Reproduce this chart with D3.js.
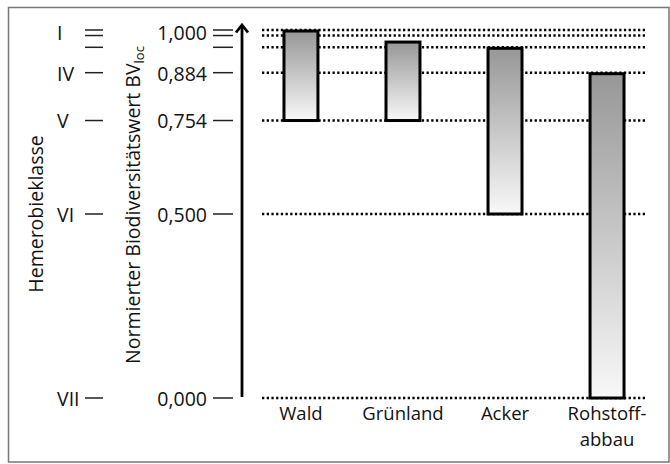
<!DOCTYPE html>
<html>
<head>
<meta charset="utf-8">
<script src="https://cdn.jsdelivr.net/npm/d3@7"></script>
<style>
  body { margin: 0; background: #fff; }
  svg text { font-family: "Open Sans", sans-serif; fill: #111; }
</style>
</head>
<body>
<svg id="chart" width="670" height="464"></svg>
<script>
// land use categories and their range of normalised biodiversity value
const categories = ['Wald', 'Grünland', 'Acker', 'Rohstoff-\nabbau'];
const barLow = [0.754, 0.754, 0.5, 0.0];
const barHigh = [1.0, 0.97, 0.953, 0.884];

// hemeroby classes and the matching BV_loc levels
const classes = ['I', 'II', 'III', 'IV', 'V', 'VI', 'VII'];
const classValues = [1.0, 0.985, 0.953, 0.884, 0.754, 0.5, 0.0];
const classLabelShown = [true, false, false, true, true, true, true];
const valueTickLabels = ['1,000', '', '', '0,884', '0,754', '0,500', '0,000'];

const FONT = 19.5;
const CAT_FONT = 18.5;
const svg = d3.select('#chart');

const y = d3.scaleLinear().domain([0, 1]).range([398, 30]);
const x = d3.scaleBand().domain(categories).range([250, 658])
  .paddingInner(0.667).paddingOuter(0.333);

// frame
svg.append('rect')
  .attr('x', 8.5).attr('y', 7.5).attr('width', 660.5).attr('height', 454.5)
  .attr('fill', 'none').attr('stroke', '#777').attr('stroke-width', 1.5);

// dotted reference lines
svg.append('g').selectAll('line')
  .data(classValues)
  .join('line')
  .attr('x1', 262).attr('x2', 645)
  .attr('y1', d => y(d)).attr('y2', d => y(d))
  .attr('stroke', '#000').attr('stroke-width', 2.4)
  .attr('stroke-dasharray', '2.3 2.4');

// gradient shared by the bars (bounding box units, so each bar gets the full ramp)
const grad = svg.append('defs').append('linearGradient').attr('id', 'barGrad')
  .attr('x1', 0).attr('y1', 0).attr('x2', 0).attr('y2', 1);
grad.append('stop').attr('offset', '0%').attr('stop-color', '#979797');
grad.append('stop').attr('offset', '100%').attr('stop-color', '#f8f8f8');

svg.append('g').selectAll('rect')
  .data(categories)
  .join('rect')
  .attr('x', d => x(d))
  .attr('width', x.bandwidth())
  .attr('y', (d, i) => y(barHigh[i]) + 1)
  .attr('height', (d, i) => y(barLow[i]) - y(barHigh[i]) - 1)
  .attr('fill', 'url(#barGrad)')
  .attr('stroke', '#000').attr('stroke-width', 3);

// category labels, one text per line
const catLines = categories.flatMap(c => c.split('\n').map((line, i) => ({ c, line, i })));
svg.append('g').selectAll('text')
  .data(catLines)
  .join('text')
  .attr('text-anchor', 'middle')
  .attr('font-size', CAT_FONT)
  .attr('x', d => x(d.c) + x.bandwidth() / 2)
  .attr('y', d => 420 + d.i * 25.5)
  .text(d => d.line);

// value axis ticks
const valueAxis = svg.append('g');
valueAxis.selectAll('line')
  .data(classValues)
  .join('line')
  .attr('x1', 213).attr('x2', 233)
  .attr('y1', d => y(d)).attr('y2', d => y(d))
  .attr('stroke', '#222').attr('stroke-width', 1.5);
valueAxis.selectAll('text')
  .data(classValues.filter((d, i) => valueTickLabels[i]))
  .join('text')
  .attr('x', 207)
  .attr('y', d => y(d) + (d === 1 ? 3 : 1))
  .attr('dy', '0.35em')
  .attr('text-anchor', 'end')
  .attr('font-size', FONT)
  .text(d => valueTickLabels[classValues.indexOf(d)]);

// hemeroby class ticks
const classAxis = svg.append('g');
classAxis.selectAll('line')
  .data(classValues)
  .join('line')
  .attr('x1', 85).attr('x2', 103)
  .attr('y1', d => y(d)).attr('y2', d => y(d))
  .attr('stroke', '#222').attr('stroke-width', 1.5);
classAxis.selectAll('text')
  .data(classes.filter((d, i) => classLabelShown[i]))
  .join('text')
  .attr('x', 57)
  .attr('y', d => y(classValues[classes.indexOf(d)]) + (d === 'I' ? 3 : 1))
  .attr('dy', '0.35em')
  .attr('font-size', FONT)
  .text(d => d);

// arrow axis
svg.append('line')
  .attr('x1', 242).attr('x2', 242)
  .attr('y1', 397).attr('y2', 26)
  .attr('stroke', '#000').attr('stroke-width', 2.8);
svg.append('path')
  .attr('d', 'M236,32.5 L242,25 L248,32.5')
  .attr('fill', 'none').attr('stroke', '#000').attr('stroke-width', 2.8);

// axis titles
svg.append('text')
  .attr('transform', 'translate(43,214) rotate(-90)')
  .attr('text-anchor', 'middle')
  .attr('font-size', FONT)
  .text('Hemerobieklasse');

const t = svg.append('text')
  .attr('transform', 'translate(140,205) rotate(-90)')
  .attr('text-anchor', 'middle')
  .attr('font-size', FONT);
t.append('tspan').text('Normierter Biodiversitätswert BV');
t.append('tspan').attr('font-size', 13).attr('dy', 4).text('loc');
</script>
</body>
</html>
